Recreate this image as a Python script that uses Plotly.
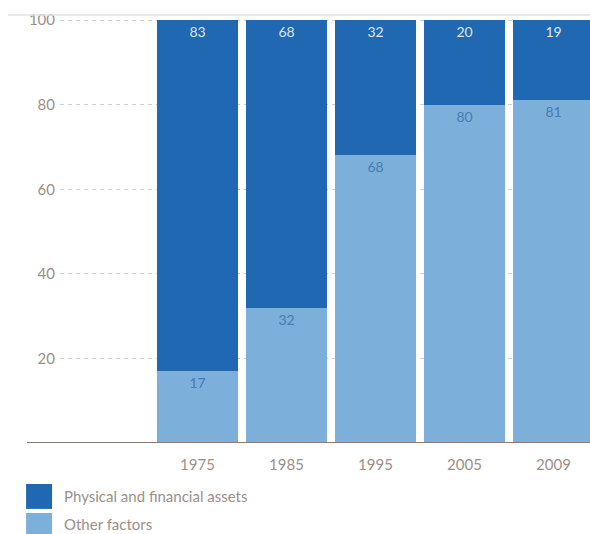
import plotly.graph_objects as go

years = ["1975", "1985", "1995", "2005", "2009"]
other_factors = [17, 32, 68, 80, 81]
physical_financial = [83, 68, 32, 20, 19]
y_ticks = [20, 40, 60, 80, 100]
legend_names = ["Physical and financial assets", "Other factors"]

DARK = "#2068b2"
LIGHT = "#7cb0db"
TXT = "#9a8f8a"
FONT = "Lato, 'Open Sans', sans-serif"

fig = go.Figure()
fig.add_trace(go.Bar(
    x=years, y=other_factors, name=legend_names[1], marker_color=LIGHT,
    marker_line_width=0, text=[str(v) for v in other_factors],
    textposition="inside", insidetextanchor="end",
    textfont=dict(color="#4a7ab0", size=14, family=FONT), showlegend=False))
fig.add_trace(go.Bar(
    x=years, y=physical_financial, name=legend_names[0], marker_color=DARK,
    marker_line_width=0, text=[str(v) for v in physical_financial],
    textposition="inside", insidetextanchor="end",
    textfont=dict(color="#dce6f3", size=14, family=FONT), showlegend=False))

fig.update_layout(
    width=590, height=534, barmode="stack", bargap=0.08,
    margin=dict(l=60, r=0, t=15, b=91),
    paper_bgcolor="white", plot_bgcolor="white",
    font=dict(family=FONT, color=TXT, size=15),
    uniformtext=dict(minsize=14, mode="show"),
)
fig.update_xaxes(type="category", range=[-1.545, 4.41], showgrid=False,
                 showline=False, ticks="", ticklabelstandoff=11,
                 tickfont=dict(size=15, color=TXT))
fig.update_yaxes(range=[0, 101.2], tickvals=y_ticks, showgrid=True,
                 gridcolor="#cfcfcf", griddash="4px,4px", gridwidth=1,
                 zeroline=False, showline=False, ticks="",
                 ticklabelstandoff=4, tickfont=dict(size=15, color=TXT))

# baseline (extends left of plot area, as in the original)
fig.add_shape(type="line", xref="paper", yref="y", x0=-0.0623, x1=1,
              y0=0, y1=0, line=dict(color="#8c7b74", width=2))
# top rule
fig.add_shape(type="line", xref="paper", yref="paper", x0=-0.098, x1=1,
              y0=1.0, y1=1.0, line=dict(color="#e2e2e2", width=1.5))

# custom legend
legend_rows = [(-0.0958, -0.154, -0.124), (-0.1636, -0.2173, -0.189)]
for (y1, y0, yt), name, col in zip(legend_rows, legend_names, [DARK, LIGHT]):
    fig.add_shape(type="rect", xref="paper", yref="paper",
                  x0=-0.064, x1=-0.015, y0=y0, y1=y1,
                  fillcolor=col, line_width=0)
    fig.add_annotation(xref="paper", yref="paper", x=0.0038, y=yt,
                       text=name, showarrow=False, xanchor="left",
                       yanchor="middle", font=dict(size=15, color=TXT, family=FONT))

fig.write_html("out.html")
